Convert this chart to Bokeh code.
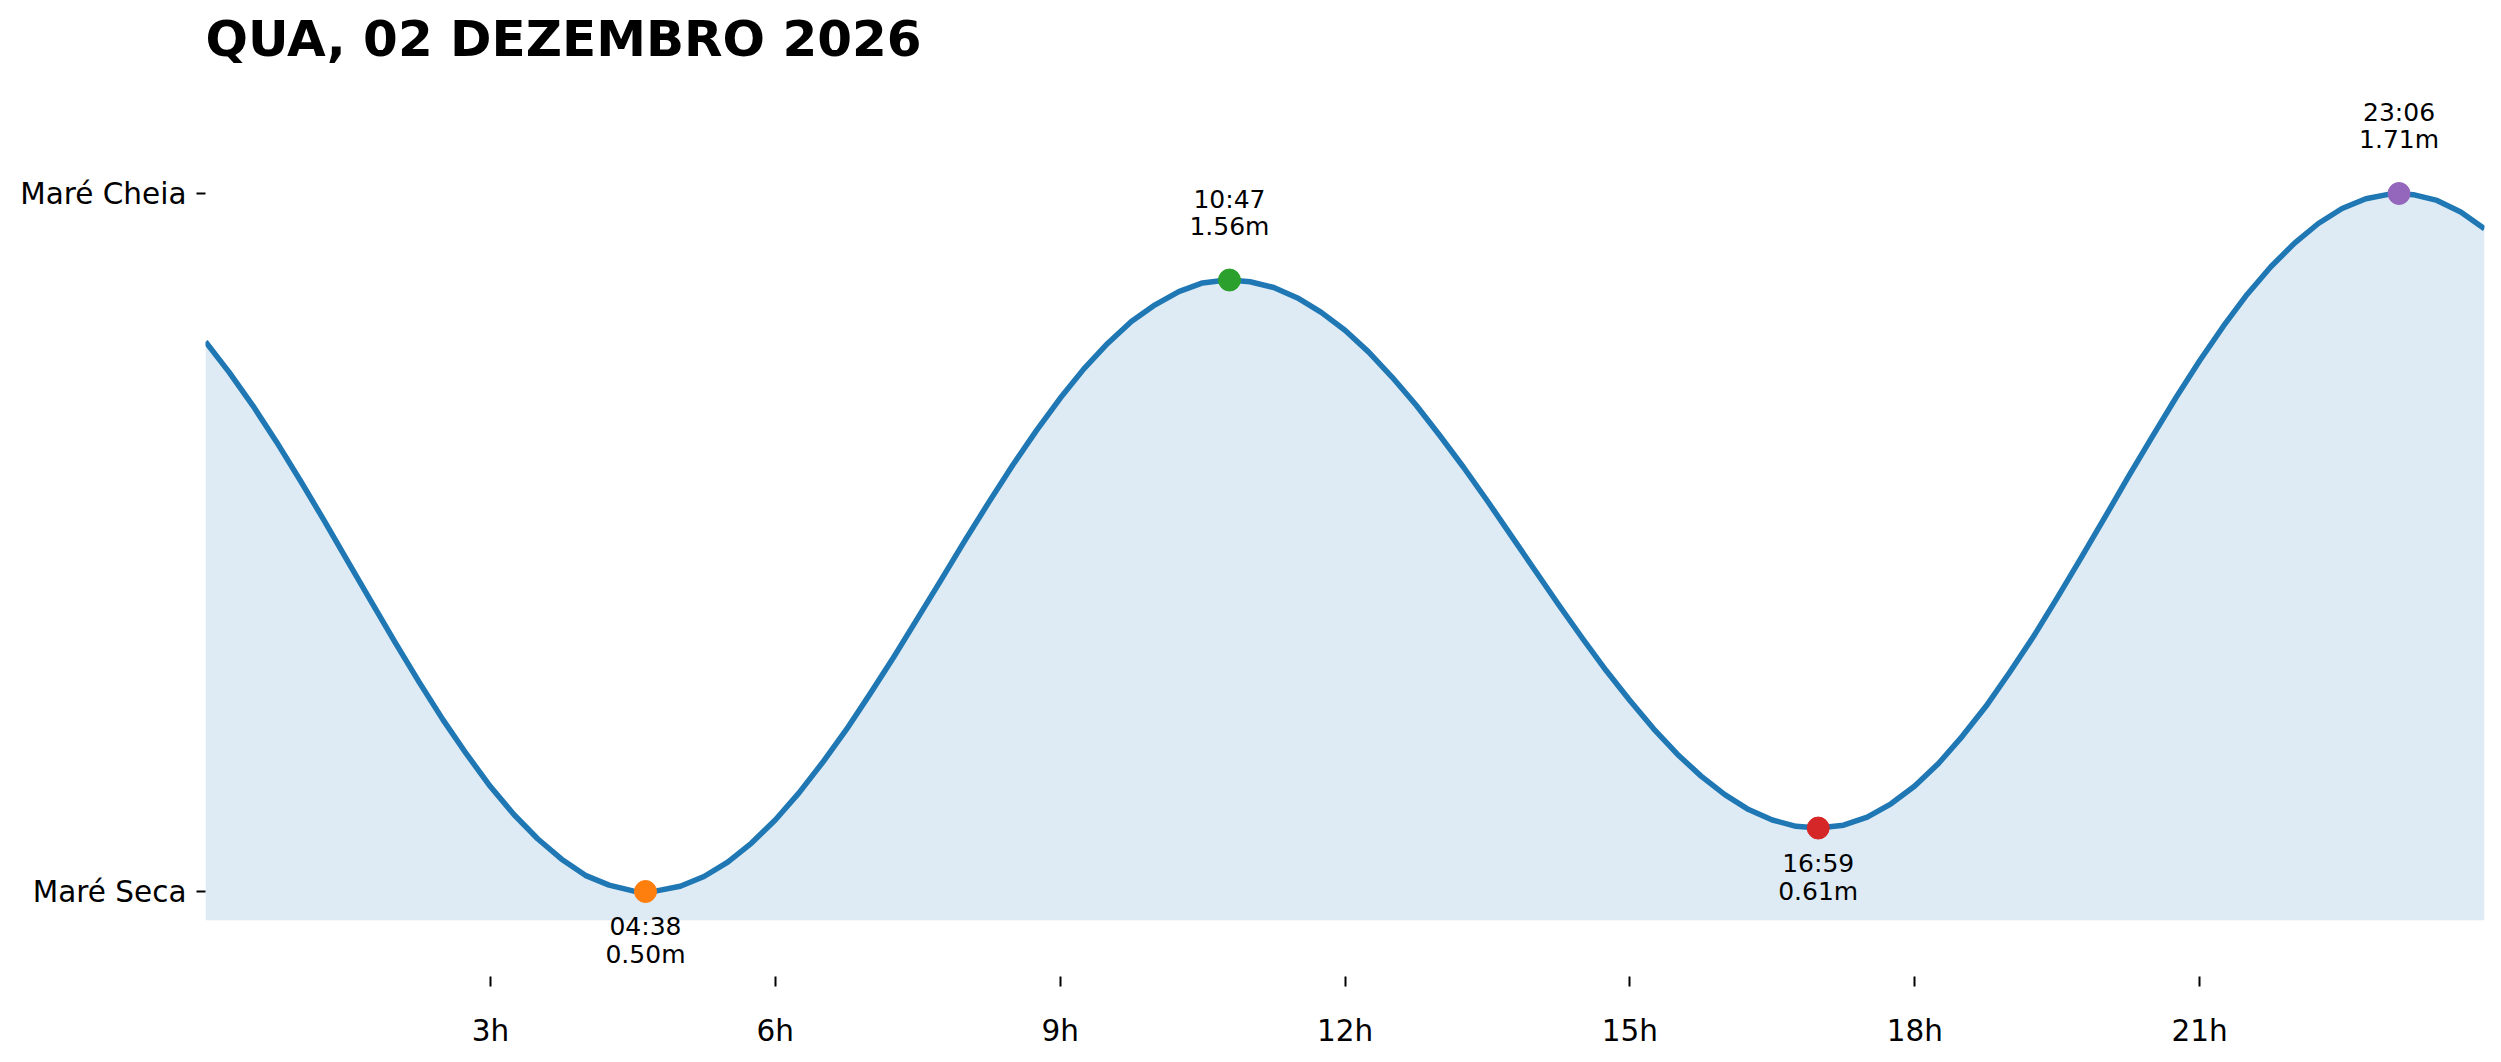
from bokeh.plotting import figure
from bokeh.models import Range1d, FixedTicker, ColumnDataSource
from bokeh.core.properties import value
from bokeh.embed import file_html
from bokeh.resources import INLINE

# ---------------- data ----------------
title_text = "QUA, 02 DEZEMBRO 2026"

hours = [0.0, 0.25, 0.5, 0.75, 1.0, 1.25, 1.5, 1.75, 2.0, 2.25, 2.5, 2.75,
         3.0, 3.25, 3.5, 3.75, 4.0, 4.25, 4.5, 4.633, 4.75,
         5.0, 5.25, 5.5, 5.75, 6.0, 6.25, 6.5, 6.75, 7.0, 7.25, 7.5, 7.75,
         8.0, 8.25, 8.5, 8.75, 9.0, 9.25, 9.5, 9.75, 10.0, 10.25, 10.5, 10.75, 10.783,
         11.0, 11.25, 11.5, 11.75, 12.0, 12.25, 12.5, 12.75, 13.0, 13.25, 13.5, 13.75,
         14.0, 14.25, 14.5, 14.75, 15.0, 15.25, 15.5, 15.75, 16.0, 16.25, 16.5, 16.75, 16.983,
         17.25, 17.5, 17.75, 18.0, 18.25, 18.5, 18.75, 19.0, 19.25, 19.5, 19.75,
         20.0, 20.25, 20.5, 20.75, 21.0, 21.25, 21.5, 21.75, 22.0, 22.25, 22.5, 22.75,
         23.0, 23.1, 23.25, 23.5, 23.75, 24.0]
heights = [1.453, 1.400, 1.342, 1.279, 1.212, 1.143, 1.072, 1.001, 0.931, 0.863, 0.798, 0.738,
           0.682, 0.633, 0.591, 0.556, 0.528, 0.511, 0.501, 0.500, 0.501,
           0.509, 0.526, 0.551, 0.584, 0.624, 0.671, 0.724, 0.781, 0.843, 0.907, 0.974, 1.041,
           1.109, 1.175, 1.239, 1.299, 1.355, 1.406, 1.450, 1.488, 1.517, 1.540, 1.555, 1.560, 1.560,
           1.557, 1.547, 1.529, 1.504, 1.473, 1.435, 1.391, 1.343, 1.290, 1.235, 1.177, 1.117,
           1.057, 0.997, 0.939, 0.883, 0.831, 0.782, 0.738, 0.700, 0.668, 0.642, 0.624, 0.613, 0.610,
           0.615, 0.629, 0.652, 0.683, 0.722, 0.769, 0.821, 0.880, 0.942, 1.009, 1.078,
           1.148, 1.219, 1.288, 1.356, 1.420, 1.480, 1.535, 1.583, 1.624, 1.658, 1.684, 1.701,
           1.709, 1.710, 1.708, 1.698, 1.678, 1.649]

ext_times = ["04:38", "10:47", "16:59", "23:06"]
ext_heights = [0.50, 1.56, 0.61, 1.71]
ext_kind = ["low", "high", "low", "high"]

x_ticks = [3, 6, 9, 12, 15, 18, 21]
x_tick_labels = ["3h", "6h", "9h", "12h", "15h", "18h", "21h"]
y_tick_labels = ["Maré Seca", "Maré Cheia"]

# ---------------- styles ----------------
line_color = "#1f77b4"
point_colors = ["#ff7f0e", "#2ca02c", "#d62728", "#9467bd"]
FONT = "DejaVu Sans"

ext_hours = [int(s[:2]) + int(s[3:]) / 60 for s in ext_times]
fill_base = min(ext_heights) - 0.05

W, H = 2495, 1054
p = figure(width=W, height=H, output_backend="svg", toolbar_location=None,
           x_range=Range1d(0, 24), y_range=Range1d(0.35265, 1.9215),
           min_border_left=205, min_border_right=W - 2484, min_border_top=71,
           min_border_bottom=H - 976, title=title_text)
p.outline_line_color = None
p.xgrid.visible = False
p.ygrid.visible = False
p.background_fill_color = "white"
p.border_fill_color = "white"

p.title.text_font = FONT
p.title.text_font_size = "50px"
p.title.text_font_style = "bold"
p.title.text_color = "black"
p.title.align = "left"
p.title.standoff = 8

p.varea(x=hours, y1=[fill_base] * len(hours), y2=heights,
        fill_color=line_color, fill_alpha=0.15)
p.line(x=hours, y=heights, line_color=line_color, line_width=5.5, line_join="round")

src = ColumnDataSource(dict(x=ext_hours, y=ext_heights, c=point_colors))
p.scatter(x="x", y="y", color="c", size=22, source=src)

for xh, yh, t, k in zip(ext_hours, ext_heights, ext_times, ext_kind):
    lab = f"{yh:.2f}m"
    if k == "high":
        offs = [(-81, t), (-54, lab)]
    else:
        offs = [(35, t), (63, lab)]
    for off, txt in offs:
        p.text(x=[xh], y=[yh], text=[txt], y_offset=off, text_align="center",
               text_baseline="alphabetic", text_font=value(FONT),
               text_font_size="25px", text_color="black")

# axes
xa = p.xaxis[0]
xa.ticker = FixedTicker(ticks=x_ticks)
xa.major_label_overrides = {t: l for t, l in zip(x_ticks, x_tick_labels)}
xa.axis_line_color = None
xa.minor_tick_line_color = None
xa.major_tick_in = 0
xa.major_tick_out = 10
xa.major_tick_line_width = 2
xa.major_tick_line_color = "black"
xa.major_label_text_font = FONT
xa.major_label_text_font_size = "29.5px"
xa.major_label_text_color = "black"
xa.major_label_standoff = 27

ya = p.yaxis[0]
y_ticks = [min(ext_heights), max(ext_heights)]
ya.ticker = FixedTicker(ticks=y_ticks)
ya.major_label_overrides = {y_ticks[0]: y_tick_labels[0], y_ticks[1]: y_tick_labels[1]}
ya.axis_line_color = None
ya.minor_tick_line_color = None
ya.major_tick_in = 0
ya.major_tick_out = 9
ya.major_tick_line_width = 2
ya.major_tick_line_color = "black"
ya.major_label_text_font = FONT
ya.major_label_text_font_size = "29.5px"
ya.major_label_text_color = "black"
ya.major_label_standoff = 10

open("out.html", "w").write(file_html(p, INLINE))
